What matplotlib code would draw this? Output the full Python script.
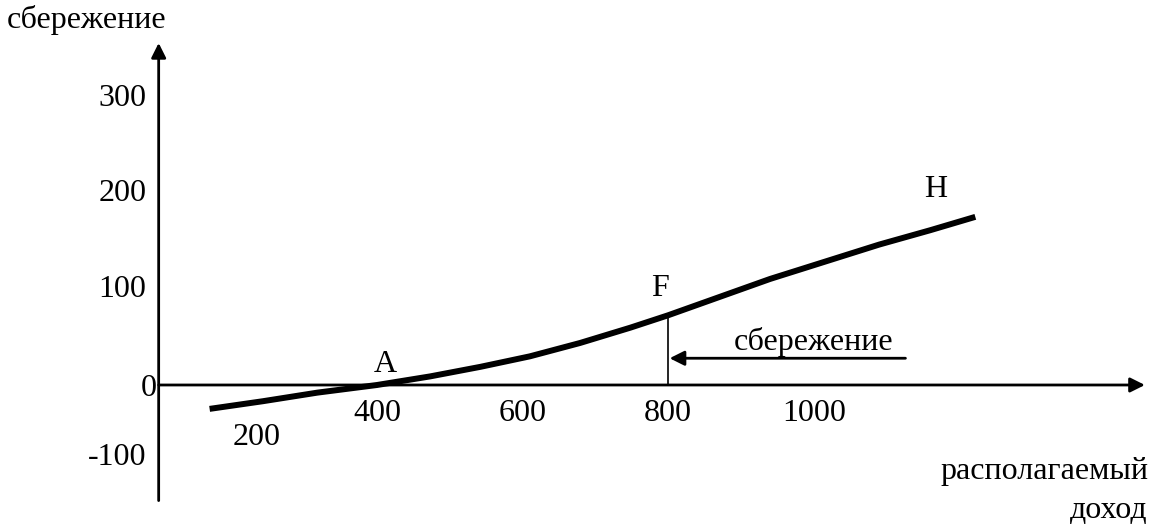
import numpy as np
import matplotlib.pyplot as plt

plt.rcParams['font.family'] = ['Liberation Serif', 'DejaVu Serif']

# savings function
income = [170, 243, 318, 400, 473, 542, 610, 679, 748, 800, 870, 940, 1015, 1090, 1160, 1222]
saving = [-25, -17, -8, 0, 9, 19, 30, 44, 60, 73, 92, 111, 129, 147, 162, 176]

y_ticks = [300, 200, 100, 0, -100]
x_ticks = [200, 400, 600, 800, 1000]

fig = plt.figure(figsize=(11.58, 5.26), dpi=100)
ax = fig.add_axes([0, 0, 1, 1])
ax.set_xlim(-118, 1473)
ax.set_ylim(-147.6, 403)
ax.axis('off')

fs = 23

# axes with arrows
ax.annotate('', xy=(100, 358), xytext=(100, -121),
            arrowprops=dict(arrowstyle='-|>', lw=2, color='black',
                            mutation_scale=22, shrinkA=0, shrinkB=0))
ax.annotate('', xy=(1455, 0), xytext=(100, 0),
            arrowprops=dict(arrowstyle='-|>', lw=2, color='black',
                            mutation_scale=22, shrinkA=0, shrinkB=0))

# curve
ax.plot(income, saving, color='black', lw=4.3, solid_capstyle='butt',
        solid_joinstyle='round')

# vertical line at F
f_val = saving[income.index(800)]
ax.plot([800, 800], [0, f_val], color='black', lw=1.2)

# savings arrow
ax.annotate('', xy=(802, 28), xytext=(1126, 28),
            arrowprops=dict(arrowstyle='-|>', lw=2, color='black',
                            mutation_scale=22, shrinkA=0, shrinkB=0))
ax.text(1000, 29, 'сбережение', fontsize=fs, ha='center', va='bottom')

# point labels
ax.text(411, 6, 'A', fontsize=fs, ha='center', va='bottom')
ax.text(789, 86, 'F', fontsize=fs, ha='center', va='bottom')
ax.text(1167, 189, 'H', fontsize=fs, ha='center', va='bottom')

# tick labels
for v in y_ticks:
    yy = v if v != -100 else -76
    xx = 83
    if v == 0:
        xx, yy = 98, -4
    ax.text(xx, yy, str(v), fontsize=fs, ha='right', va='center')
for v in x_ticks:
    xx, yy = (v, -30)
    if v == 200:
        xx, yy = 235, -55
    ax.text(xx, yy, str(v), fontsize=fs, ha='center', va='center')

# axis titles
fig.text(7 / 1158, 1 - 20 / 526, 'сбережение', fontsize=fs, ha='left', va='center')
fig.text(1148 / 1158, 1 - 472 / 526, 'располагаемый', fontsize=fs, ha='right', va='center')
fig.text(1148 / 1158, 1 - 510 / 526, 'доход', fontsize=fs, ha='right', va='center')

fig.savefig('out.png', dpi=100)
